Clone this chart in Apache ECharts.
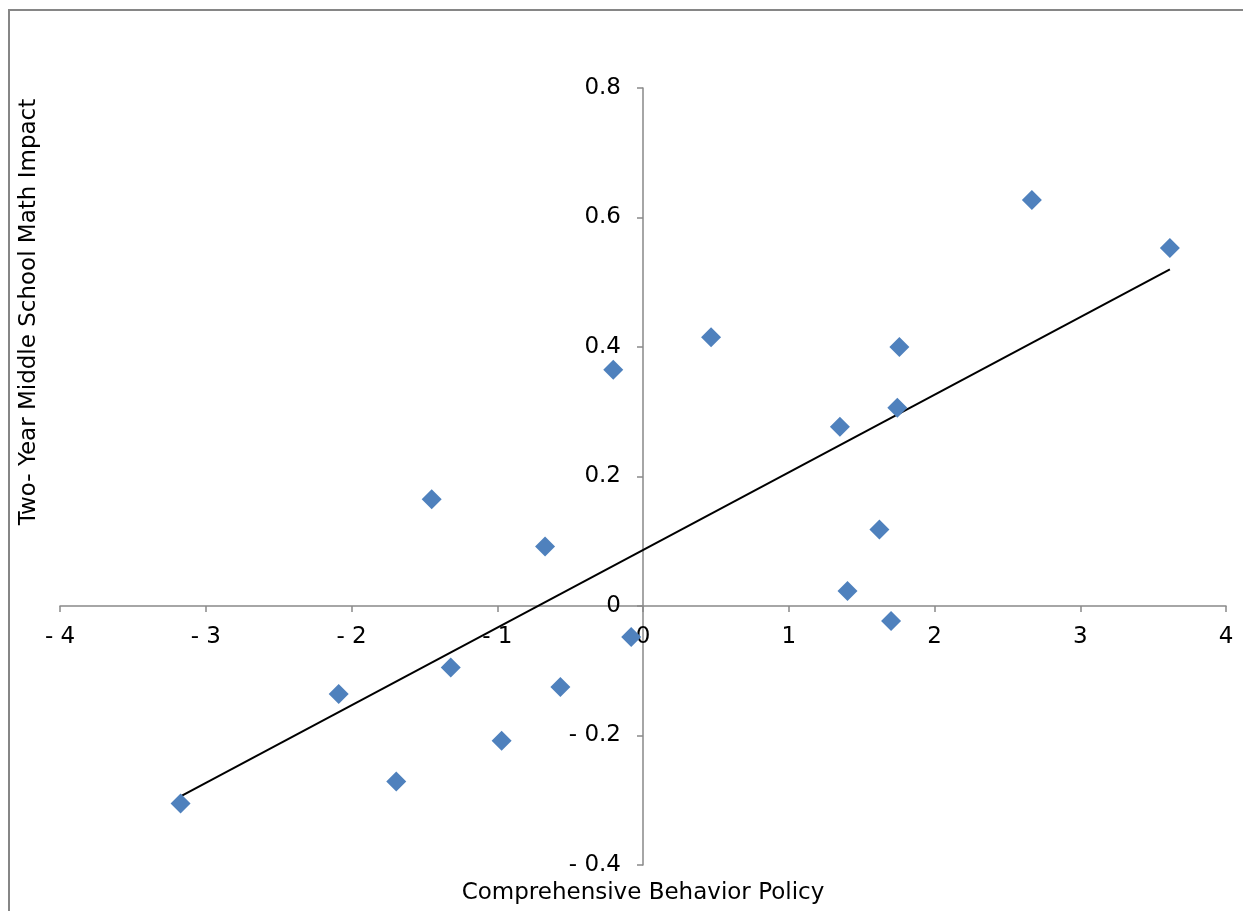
<!DOCTYPE html>
<html>
<head>
<meta charset="utf-8">
<script src="https://cdn.jsdelivr.net/npm/echarts@6/dist/echarts.min.js"></script>
<style>
html,body{margin:0;padding:0;background:#fff;}
#chart{width:1243px;height:911px;}
</style>
</head>
<body>
<div id="chart"></div>
<script>
// Comprehensive Behavior Policy (x) vs Two-Year Middle School Math Impact (y)
const policyX = [-3.173, -2.088, -1.693, -1.450, -1.319, -0.970, -0.672, -0.567, -0.204, -0.081,
                 0.467, 1.351, 1.403, 1.622, 1.702, 1.745, 1.759, 2.668, 3.615];
const mathImpactY = [-0.305, -0.136, -0.271, 0.165, -0.095, -0.208, 0.092, -0.125, 0.365, -0.048,
                     0.415, 0.277, 0.023, 0.118, -0.023, 0.306, 0.400, 0.627, 0.553];
// Linear trend line endpoints
const trendX = [-3.173, 3.615];
const trendY = [-0.294, 0.520];

const xTitle = 'Comprehensive Behavior Policy';
const yTitle = 'Two- Year Middle School Math Impact';

const FONT = 'DejaVu Sans';
const fmt = v => {
  const r = Math.round(v * 10) / 10;
  return r < 0 ? '- ' + Math.abs(r) : String(r);
};

const GRID = {left: 60, right: 17, top: 88, bottom: 46};
const W = 1243, H = 911;
const plotW = W - GRID.left - GRID.right;
const plotH = H - GRID.top - GRID.bottom;

const chart = echarts.init(document.getElementById('chart'), null, {renderer: 'canvas'});
chart.setOption({
  animation: false,
  backgroundColor: '#ffffff',
  grid: Object.assign({containLabel: false, outerBoundsMode: 'none'}, GRID),
  xAxis: {
    type: 'value', min: -4, max: 4, interval: 1,
    position: 'bottom',
    // place the axis at y = 0 (0.4 of 1.2 range above the bottom)
    offset: -plotH * (0.4 / 1.2),
    axisLine: {onZero: false, lineStyle: {color: '#898989', width: 1.5}},
    axisTick: {show: true, inside: false, length: 6, lineStyle: {color: '#898989', width: 1.5}},
    axisLabel: {fontFamily: FONT, fontSize: 23, color: '#000', margin: 20, formatter: fmt},
    splitLine: {show: false}
  },
  yAxis: {
    type: 'value', min: -0.4, max: 0.8, interval: 0.2,
    position: 'left',
    // place the axis at x = 0 (middle of -4..4)
    offset: -plotW * 0.5,
    axisLine: {onZero: false, lineStyle: {color: '#898989', width: 1.5}},
    axisTick: {show: true, inside: false, length: 6, lineStyle: {color: '#898989', width: 1.5}},
    axisLabel: {fontFamily: FONT, fontSize: 23, color: '#000', margin: 22, formatter: fmt},
    splitLine: {show: false}
  },
  series: [
    {
      type: 'line',
      data: trendX.map((x, i) => [x, trendY[i]]),
      showSymbol: false,
      symbol: 'none',
      lineStyle: {color: '#000', width: 2},
      z: 3
    },
    {
      type: 'scatter',
      data: policyX.map((x, i) => [x, mathImpactY[i]]),
      symbol: 'diamond',
      symbolSize: 20,
      itemStyle: {color: '#4F81BD', opacity: 1},
      z: 4
    }
  ],
  graphic: [
    {
      type: 'rect', silent: true, z: -1,
      shape: {x: 9, y: 10, width: 1300, height: 1000},
      style: {fill: 'none', stroke: '#868686', lineWidth: 2}
    },
    {
      type: 'text', x: 643, y: 893,
      style: {text: xTitle, font: '23px "DejaVu Sans"', fill: '#000', textAlign: 'center', textVerticalAlign: 'middle'}
    },
    {
      type: 'text', x: 29, y: 312, rotation: Math.PI / 2,
      style: {text: yTitle, font: '23px "DejaVu Sans"', fill: '#000', textAlign: 'center', textVerticalAlign: 'middle'}
    }
  ]
});
</script>
</body>
</html>
